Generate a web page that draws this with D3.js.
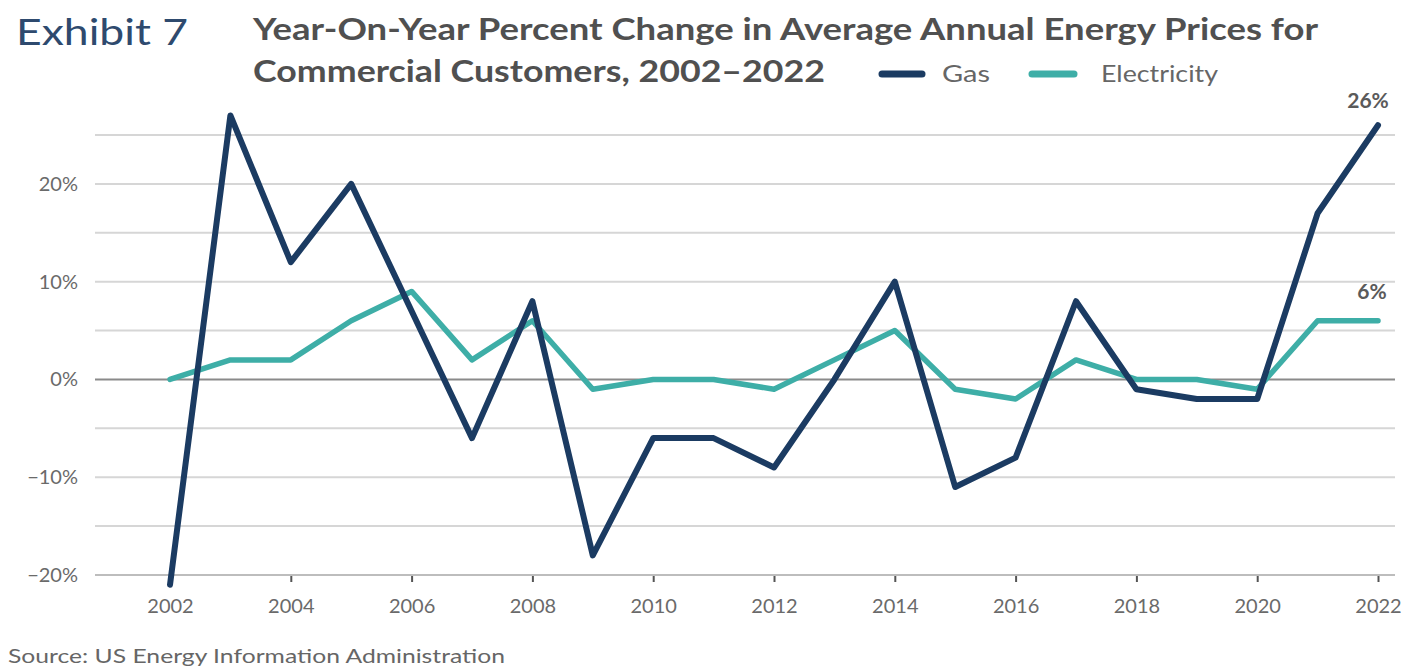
<!DOCTYPE html>
<html>
<head>
<meta charset="utf-8">
<script src="https://cdn.jsdelivr.net/npm/d3@7"></script>
<style>
  html, body { margin: 0; padding: 0; background: #ffffff; }
  svg { display: block; font-family: Lato, "Open Sans", sans-serif; }
</style>
</head>
<body>
<svg id="chart" width="1422" height="668"></svg>
<script>
// Year-on-year % change, commercial customers
const years = d3.range(2002, 2023);
const gasValues = [-21, 27, 12, 20, 7, -6, 8, -18, -6, -6, -9, 0, 10, -11, -8, 8, -1, -2, -2, 17, 26];
const electricityValues = [0, 2, 2, 6, 9, 2, 6, -1, 0, 0, -1, 2, 5, -1, -2, 2, 0, 0, -1, 6, 6];
const seriesNames = ["Gas", "Electricity"];
const yTickValues = [-20, -10, 0, 10, 20];
const yGridValues = [-20, -15, -10, -5, 0, 5, 10, 15, 20, 25];
const xTickValues = d3.range(2002, 2023, 2);

const colors = { Gas: "#1b3b62", Electricity: "#3eaea7" };

const svg = d3.select("#chart");

const x = d3.scaleLinear().domain([2002, 2022]).range([170, 1378]);
const y = d3.scaleLinear().domain([-20, 25]).range([575, 135]);
const gridLeft = 95, gridRight = 1395;

// Header
svg.append("text")
  .attr("x", 16).attr("y", 45)
  .attr("font-size", 36).attr("fill", "#2e4a6e")
  .attr("font-weight", 400)
  .attr("textLength", 172).attr("lengthAdjust", "spacingAndGlyphs")
  .text("Exhibit 7");

svg.append("text")
  .attr("x", 253).attr("y", 40)
  .attr("font-size", 31).attr("font-weight", 700).attr("fill", "#505050")
  .attr("textLength", 1065).attr("lengthAdjust", "spacingAndGlyphs")
  .text("Year-On-Year Percent Change in Average Annual Energy Prices for");

svg.append("text")
  .attr("x", 253).attr("y", 82)
  .attr("font-size", 31).attr("font-weight", 700).attr("fill", "#505050")
  .attr("textLength", 572).attr("lengthAdjust", "spacingAndGlyphs")
  .text("Commercial Customers, 2002\u20132022");

// Legend
const legendItems = [
  { name: seriesNames[0], x0: 882, x1: 922, tx: 942, tw: 48 },
  { name: seriesNames[1], x0: 1032, x1: 1074, tx: 1101, tw: 117 }
];
const legend = svg.append("g");
legendItems.forEach(d => {
  legend.append("line")
    .attr("x1", d.x0).attr("x2", d.x1).attr("y1", 74).attr("y2", 74)
    .attr("stroke", colors[d.name]).attr("stroke-width", 7)
    .attr("stroke-linecap", "round");
  legend.append("text")
    .attr("x", d.tx).attr("y", 82)
    .attr("font-size", 23).attr("fill", "#666")
    .attr("textLength", d.tw).attr("lengthAdjust", "spacingAndGlyphs")
    .text(d.name);
});

// Gridlines
svg.append("g")
  .selectAll("line")
  .data(yGridValues.filter(v => v !== 0 && v !== -20))
  .join("line")
  .attr("x1", gridLeft).attr("x2", gridRight)
  .attr("y1", d => y(d)).attr("y2", d => y(d))
  .attr("stroke", "#d6d6d6").attr("stroke-width", 2);

// Zero line
svg.append("line")
  .attr("x1", gridLeft).attr("x2", gridRight)
  .attr("y1", y(0)).attr("y2", y(0))
  .attr("stroke", "#8a8a8a").attr("stroke-width", 2);

// Y axis labels
const fmtPct = v => (v < 0 ? "\u2212" + Math.abs(v) : v) + "%";
const yAxis = d3.axisLeft(y).tickValues(yTickValues).tickFormat(fmtPct).tickSize(0).tickPadding(0);
const yAxisG = svg.append("g").attr("transform", "translate(78,0)").call(yAxis);
yAxisG.select(".domain").remove();
yAxisG.selectAll("text")
  .attr("font-family", "Lato, 'Open Sans', sans-serif")
  .attr("font-size", 20).attr("fill", "#6a6a6a");

// X axis
const xAxis = d3.axisBottom(x).tickValues(xTickValues).tickFormat(d3.format("d")).tickSize(7).tickPadding(17);
const xAxisG = svg.append("g").attr("transform", `translate(0,${y(-20)})`).call(xAxis);
xAxisG.select(".domain").remove();
xAxisG.append("line")
  .attr("x1", gridLeft).attr("x2", gridRight).attr("y1", 0).attr("y2", 0)
  .attr("stroke", "#bdbdbd").attr("stroke-width", 2);
xAxisG.selectAll(".tick line").attr("stroke", "#555").attr("stroke-width", 2);
xAxisG.selectAll("text")
  .attr("font-family", "Lato, 'Open Sans', sans-serif")
  .attr("font-size", 20).attr("fill", "#6a6a6a");

// Series lines
const series = [
  { name: "Electricity", values: electricityValues, width: 5.5 },
  { name: "Gas", values: gasValues, width: 6 }
];
const line = d3.line().x(d => x(d.year)).y(d => y(d.value));
series.forEach(s => {
  const pts = years.map((yr, i) => ({ year: yr, value: s.values[i] }));
  svg.append("path")
    .datum(pts)
    .attr("d", line)
    .attr("fill", "none")
    .attr("stroke", colors[s.name])
    .attr("stroke-width", s.width)
    .attr("stroke-linejoin", "round")
    .attr("stroke-linecap", "round");
});

// End-of-series value labels
const last = years.length - 1;
svg.append("text")
  .attr("x", x(years[last]) - 10).attr("y", y(gasValues[last]) - 17)
  .attr("text-anchor", "middle")
  .attr("font-size", 21).attr("font-weight", 700).attr("fill", "#5a5a5a")
  .text(gasValues[last] + "%");
svg.append("text")
  .attr("x", x(years[last]) - 6).attr("y", y(electricityValues[last]) - 22)
  .attr("text-anchor", "middle")
  .attr("font-size", 21).attr("font-weight", 700).attr("fill", "#5a5a5a")
  .text(electricityValues[last] + "%");

// Source note
svg.append("text")
  .attr("x", 8).attr("y", 663)
  .attr("font-size", 20).attr("fill", "#666")
  .attr("textLength", 497).attr("lengthAdjust", "spacingAndGlyphs")
  .text("Source: US Energy Information Administration");
</script>
</body>
</html>
